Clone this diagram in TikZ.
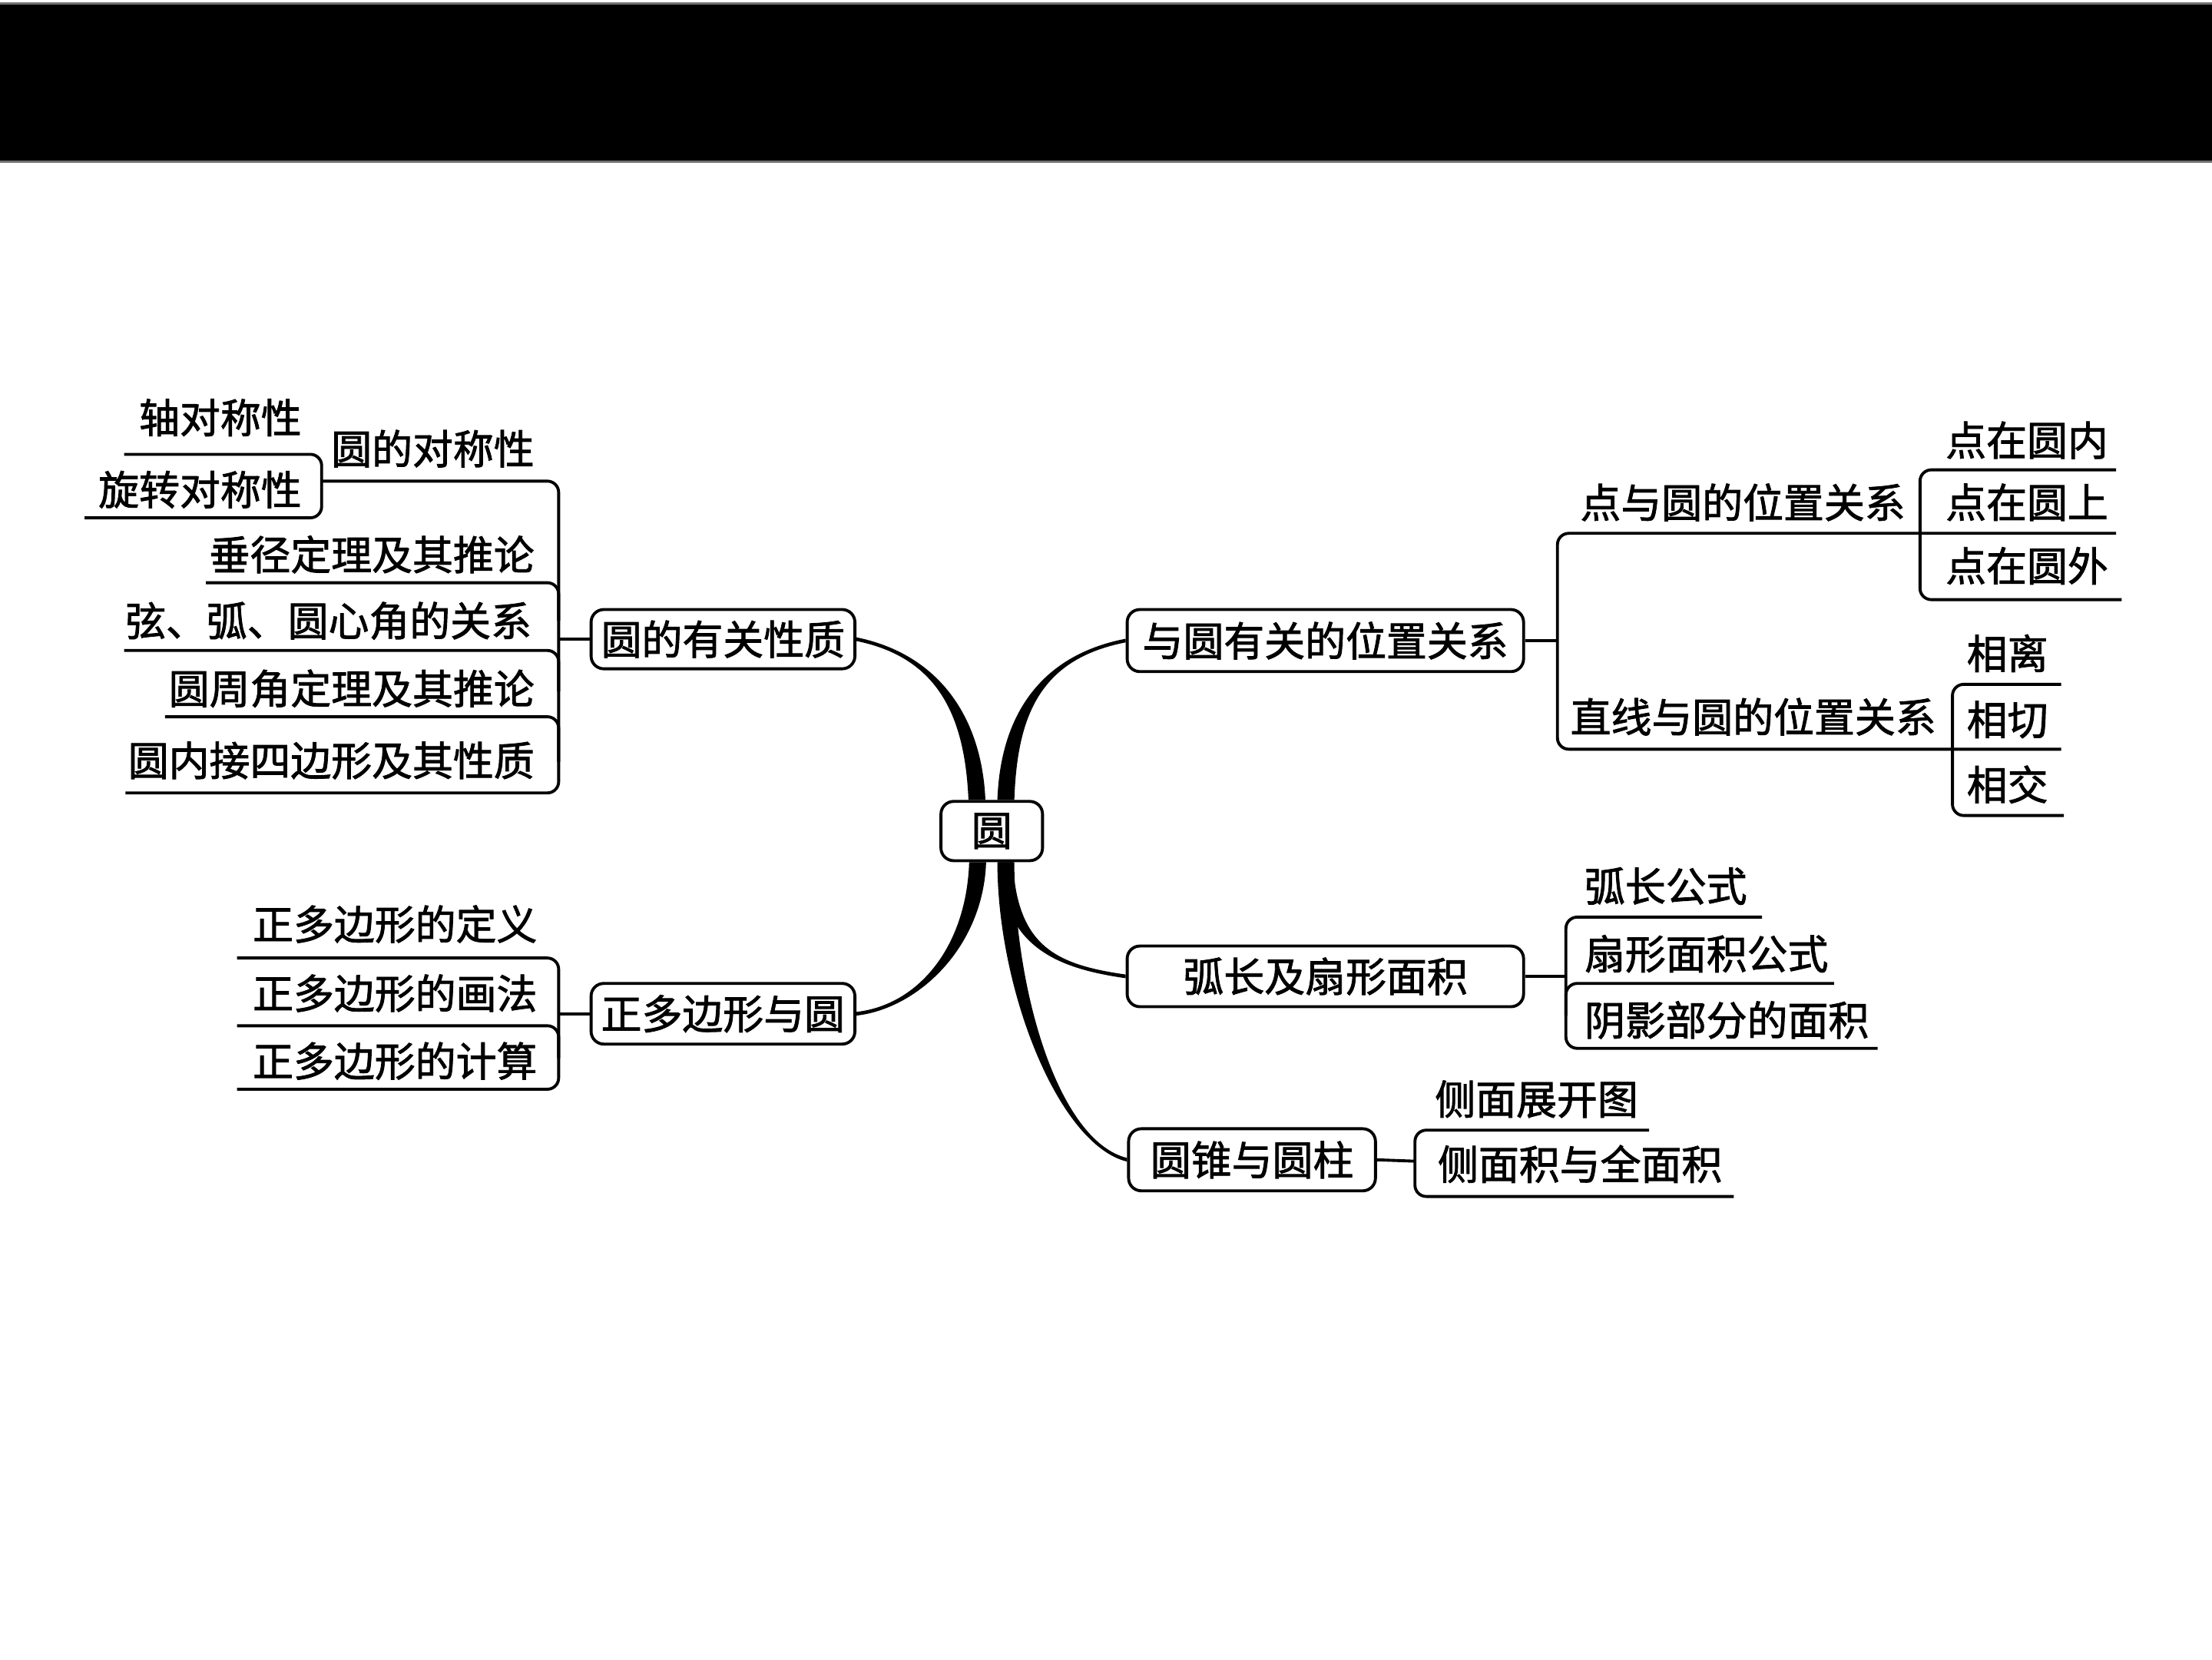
\documentclass[tikz,border=0pt]{standalone}
\usepackage{fontspec}
\setmainfont{Noto Sans CJK SC}[FakeBold=1.6]
\usetikzlibrary{calc,backgrounds}
\newcommand\fs{\fontsize{28.8}{32}\selectfont}
% tapered mind-map branch: #1 start, #2 end, #3 ctrl offset from start, #4 ctrl offset from end,
% #5 half-width vector at start, #6 half-width vector at end
\newcommand\taper[6]{%
  \fill ($(#1)+(#5)$) .. controls ($(#1)+(#5)+(#3)$) and ($(#2)+(#6)+(#4)$) .. ($(#2)+(#6)$)
     -- ($(#2)-(#6)$) .. controls ($(#2)-(#6)+(#4)$) and ($(#1)-(#5)+(#3)$) .. ($(#1)-(#5)$) -- cycle;}
\begin{document}
\begin{tikzpicture}[x=1pt,y=1pt,
  box/.style={draw, line width=2.1pt, rounded corners=9pt, fill=white, inner sep=0pt,
              minimum height=42pt, font=\fs},
  leaf/.style={inner sep=0pt, font=\fs},
  ul/.style={line width=2.1pt, rounded corners=8pt}]
\useasboundingbox (0,0) rectangle (1568,-1176);
% header bar
\fill[black!55] (0,-1.6) rectangle (1568,-115.4);
\fill[black] (0,-3.3) rectangle (1568,-113.8);

% main boxes
\node[box, minimum width=72pt] (root) at (703,-589) {圆};
\node[box, minimum width=187pt] (l1) at (512.5,-453) {圆的有关性质};
\node[box, minimum width=187pt, minimum height=43pt] (l2) at (512.5,-718.5) {正多边形与圆};
\node[box, minimum width=281pt, minimum height=44pt] (r1) at (939.5,-454) {与圆有关的位置关系};
\node[box, minimum width=281pt, minimum height=43pt] (r2) at (939.5,-692) {弧长及扇形面积};
\node[box, minimum width=175pt, minimum height=44pt] (r3) at (887.5,-822) {圆锥与圆柱};

% left group 1
\node[leaf, anchor=east] (a1) at (214,-296) {轴对称性};
\node[leaf, anchor=east] (a2) at (214,-347) {旋转对称性};
\node[leaf, anchor=east] (a) at (379,-318) {圆的对称性};
\node[leaf, anchor=east] (b) at (379,-393) {垂径定理及其推论};
\node[leaf, anchor=east] (c) at (377,-440) {弦、弧、圆心角的关系};
\node[leaf, anchor=east] (d) at (379,-488) {圆周角定理及其推论};
\node[leaf, anchor=east] (e) at (379,-539) {圆内接四边形及其性质};
\draw[ul] (88,-322) -- (228,-322) -- (228,-367) -- (60,-367);
\draw[ul] (228,-341) -- (396,-341) -- (396,-562) -- (89,-562);
\draw[ul] (146,-413) -- (396,-413) -- (396,-440);
\draw[ul] (88,-461) -- (396,-461) -- (396,-490);
\draw[ul] (117,-508) -- (396,-508) -- (396,-540);
\draw[ul] (l1.west) -- (396,-453);

% left group 2
\node[leaf, anchor=east] (f) at (381,-655) {正多边形的定义};
\node[leaf, anchor=east] (g) at (381,-704) {正多边形的画法};
\node[leaf, anchor=east] (h) at (381,-752) {正多边形的计算};
\draw[ul] (168,-679) -- (396,-679) -- (396,-772) -- (168,-772);
\draw[ul] (168,-727) -- (396,-727) -- (396,-750);
\draw[ul] (l2.west) -- (396,-718.5);

% right group 1
\node[leaf, anchor=west] (p) at (1120,-356) {点与圆的位置关系};
\node[leaf, anchor=west] (q) at (1113,-508) {直线与圆的位置关系};
\node[leaf, anchor=west] (p1) at (1379,-312) {点在圆内};
\node[leaf, anchor=west] (p2) at (1379,-356) {点在圆上};
\node[leaf, anchor=west] (p3) at (1379,-401) {点在圆外};
\node[leaf, anchor=west] (q1) at (1394,-463) {相离};
\node[leaf, anchor=west] (q2) at (1394,-510) {相切};
\node[leaf, anchor=west] (q3) at (1394,-556) {相交};
\draw[ul] (r1.east) -- (1104,-454);
\draw[ul] (1500,-378) -- (1104,-378) -- (1104,-531) -- (1461,-531);
\draw[ul] (1500,-333) -- (1361,-333) -- (1361,-425) -- (1504,-425);
\draw[ul] (1461,-485) -- (1384,-485) -- (1384,-578) -- (1463,-578);

% right group 2
\node[leaf, anchor=west] (s1) at (1123,-628) {弧长公式};
\node[leaf, anchor=west] (s2) at (1123,-676) {扇形面积公式};
\node[leaf, anchor=west] (s3) at (1123,-723) {阴影部分的面积};
\draw[ul] (r2.east) -- (1110,-692);
\draw[ul] (1249,-650) -- (1110,-650) -- (1110,-743) -- (1331,-743);
\draw[ul] (1300,-697) -- (1110,-697) -- (1110,-720);

% right group 3
\node[leaf, anchor=west] (t1) at (1017,-779) {侧面展开图};
\node[leaf, anchor=west] (t2) at (1019,-825) {侧面积与全面积};
\draw[ul] (r3.east) -- (1003,-823);
\draw[ul] (1169,-801) -- (1003,-801) -- (1003,-848) -- (1229,-848);

% tapered main branches
\coordinate (tl0) at ($(root.north)+(-10.5,0)$);
\coordinate (tr0) at ($(root.north)+(10,0)$);
\coordinate (bl0) at ($(root.south)+(-10,0)$);
\coordinate (br0) at ($(root.south)+(10,0)$);
\begin{scope}[on background layer]
\taper{tl0}{l1.east}{-2.5,58}{59,-12}{-6,0}{0,-1.3}
\taper{tr0}{r1.west}{2,58}{-62,-12}{-6,0}{0,1.3}
\taper{bl0}{l2.east}{-2,-60}{44,5}{6,0}{0,-1.3}
\taper{br0}{r3.west}{0,-90}{-49,12}{6,0}{0,1.3}
\taper{br0}{r2.west}{3,-60}{-49,7}{5,0}{0,1.3}
\end{scope}
\end{tikzpicture}
\end{document}
